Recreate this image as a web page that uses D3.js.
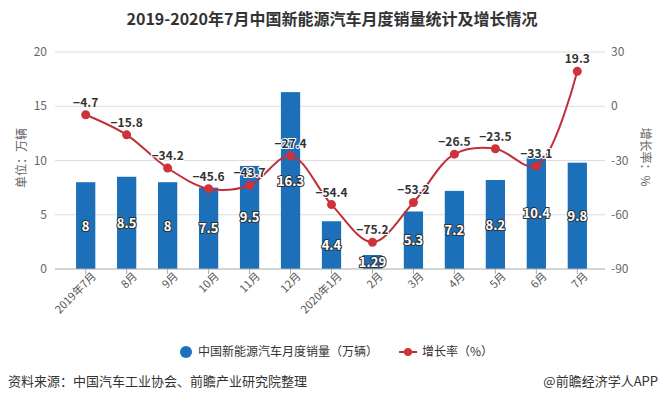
<!DOCTYPE html>
<html>
<head>
<meta charset="utf-8">
<script src="https://cdn.jsdelivr.net/npm/d3@7"></script>
<style>
body { margin: 0; background: #fff; }
svg { font-family: "Noto Sans CJK SC", "Noto Sans", sans-serif; }
</style>
</head>
<body>
<svg id="chart"></svg>
<script>
// categories and values
var months = ["2019年7月", "8月", "9月", "10月", "11月", "12月", "2020年1月",
    "2月", "3月", "4月", "5月", "6月", "7月"]
var sales = [8, 8.5, 8, 7.5, 9.5, 16.3, 4.4, 1.29, 5.3, 7.2, 8.2, 10.4, 9.8]
var growth = [-4.7, -15.8, -34.2, -45.6, -43.7, -27.4, -54.4, -75.2, -53.2, -26.5, -23.5, -33.1, 19.3]
var leftTicks = [0, 5, 10, 15, 20]
var rightTicks = [-90, -60, -30, 0, 30]

var screen = { width: 664, height: 403 }
var plot = { left: 55, right: 605, top: 52, bottom: 269 }

var svg = d3.select("#chart")
    .attr("width", screen.width)
    .attr("height", screen.height)

var xScale = d3.scaleBand()
    .domain(months)
    .range([65, 598])
    .paddingInner(0.53)
    .paddingOuter(0.27)

var yLeft = d3.scaleLinear()
    .domain([0, 20])
    .range([plot.bottom, plot.top])

var yRight = d3.scaleLinear()
    .domain([-90, 30])
    .range([plot.bottom, plot.top])

var center = function (m) {
    return xScale(m) + xScale.bandwidth() / 2
}

// title
svg.append("text")
    .text("2019-2020年7月中国新能源汽车月度销量统计及增长情况")
    .attr("x", 332)
    .attr("y", 25)
    .attr("text-anchor", "middle")
    .attr("font-size", 16)
    .attr("font-weight", "bold")
    .attr("fill", "#333")

// grid lines
svg.append("g")
    .selectAll("line")
    .data(leftTicks.slice(1))
    .enter()
    .append("line")
    .attr("x1", plot.left)
    .attr("x2", plot.right)
    .attr("y1", function (d) { return yLeft(d) })
    .attr("y2", function (d) { return yLeft(d) })
    .attr("stroke", "#dcdcdc")

// left axis labels
svg.append("g")
    .selectAll("text")
    .data(leftTicks)
    .enter()
    .append("text")
    .text(function (d) { return d })
    .attr("x", 47)
    .attr("y", function (d) { return yLeft(d) + 4 })
    .attr("text-anchor", "end")
    .attr("font-size", 12)
    .attr("fill", "#666")

// right axis labels
svg.append("g")
    .selectAll("text")
    .data(rightTicks)
    .enter()
    .append("text")
    .text(function (d) { return d })
    .attr("x", 611)
    .attr("y", function (d) { return yRight(d) + 4 })
    .attr("font-size", 12)
    .attr("fill", "#666")

// axis titles
svg.append("text")
    .text("单位：万辆")
    .attr("transform", "translate(26,158) rotate(-90)")
    .attr("text-anchor", "middle")
    .attr("font-size", 12)
    .attr("fill", "#666")

svg.append("text")
    .text("增长率：%")
    .attr("transform", "translate(641,157) rotate(90)")
    .attr("text-anchor", "middle")
    .attr("font-size", 12)
    .attr("fill", "#666")

// bars
svg.append("g")
    .selectAll("rect")
    .data(sales)
    .enter()
    .append("rect")
    .attr("x", function (d, i) { return xScale(months[i]) })
    .attr("width", xScale.bandwidth())
    .attr("y", function (d) { return yLeft(d) })
    .attr("height", function (d) { return plot.bottom - yLeft(d) })
    .attr("fill", "#1b70b9")

// x axis
var xAxis = d3.axisBottom(xScale)
    .tickSize(5)
    .tickSizeOuter(0)

var xg = svg.append("g")
    .attr("transform", "translate(0," + plot.bottom + ")")
    .call(xAxis)

xg.select(".domain").remove()
xg.insert("line", ":first-child")
    .attr("x1", plot.left)
    .attr("x2", plot.right)
    .attr("stroke", "#aaa")
xg.selectAll(".tick line").attr("stroke", "#aaa")
xg.selectAll(".tick text")
    .attr("font-family", "\"Noto Sans CJK SC\", sans-serif")
    .attr("font-size", 11)
    .attr("fill", "#555")
    .attr("text-anchor", "end")
    .attr("dx", "0.2em")
    .attr("dy", "0.5em")
    .attr("transform", "rotate(-45)")

// bar labels
svg.append("g")
    .selectAll("text")
    .data(sales)
    .enter()
    .append("text")
    .text(function (d) { return d })
    .attr("x", function (d, i) { return center(months[i]) })
    .attr("y", function (d) { return (yLeft(d) + plot.bottom) / 2 + 5 })
    .attr("text-anchor", "middle")
    .attr("font-size", 13)
    .attr("font-weight", "bold")
    .attr("fill", "#fff")
    .attr("stroke", "#333")
    .attr("stroke-width", 2)
    .attr("paint-order", "stroke")

// growth line
var lineGenerator = d3.line()
    .x(function (d, i) { return center(months[i]) })
    .y(function (d) { return yRight(d) })
    .curve(d3.curveCatmullRom)

svg.append("path")
    .datum(growth)
    .attr("d", lineGenerator)
    .attr("fill", "none")
    .attr("stroke", "#c0303a")
    .attr("stroke-width", 2)

svg.append("g")
    .selectAll("circle")
    .data(growth)
    .enter()
    .append("circle")
    .attr("cx", function (d, i) { return center(months[i]) })
    .attr("cy", function (d) { return yRight(d) })
    .attr("r", 4.5)
    .attr("fill", "#d0323c")

svg.append("g")
    .selectAll("text")
    .data(growth)
    .enter()
    .append("text")
    .text(function (d) { return d < 0 ? "\u2212" + Math.abs(d) : d })
    .attr("x", function (d, i) { return center(months[i]) })
    .attr("y", function (d) { return yRight(d) - 8 })
    .attr("text-anchor", "middle")
    .attr("font-size", 12)
    .attr("font-weight", "bold")
    .attr("fill", "#333")
    .attr("stroke", "#fff")
    .attr("stroke-width", 2)
    .attr("paint-order", "stroke")

// legend
var legend = svg.append("g")
    .attr("font-size", 12)
    .attr("fill", "#333")

legend.append("circle")
    .attr("cx", 186)
    .attr("cy", 352)
    .attr("r", 6)
    .attr("fill", "#1b70b9")
legend.append("text")
    .text("中国新能源汽车月度销量（万辆）")
    .attr("x", 198)
    .attr("y", 356)

legend.append("line")
    .attr("x1", 399)
    .attr("x2", 417)
    .attr("y1", 352)
    .attr("y2", 352)
    .attr("stroke", "#c0303a")
    .attr("stroke-width", 2)
legend.append("circle")
    .attr("cx", 408)
    .attr("cy", 352)
    .attr("r", 4)
    .attr("fill", "#d0323c")
legend.append("text")
    .text("增长率（%）")
    .attr("x", 422)
    .attr("y", 356)

// footer
svg.append("text")
    .text("资料来源：中国汽车工业协会、前瞻产业研究院整理")
    .attr("x", 8)
    .attr("y", 386)
    .attr("font-size", 13)
    .attr("fill", "#333")

svg.append("text")
    .text("@前瞻经济学人APP")
    .attr("x", 658)
    .attr("y", 386)
    .attr("text-anchor", "end")
    .attr("font-size", 13)
    .attr("fill", "#333")
</script>
</body>
</html>
